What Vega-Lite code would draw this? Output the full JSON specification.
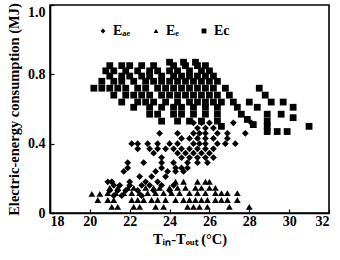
{
  "$schema": "https://vega.github.io/schema/vega-lite/v6.json",
  "width": 279,
  "height": 208,
  "autosize": {"type": "none"},
  "padding": {"left": 50, "top": 5, "right": 11, "bottom": 47},
  "background": "white",
  "config": {
    "font": "Liberation Serif",
    "view": {"stroke": "black", "strokeWidth": 1.6},
    "axis": {
      "domainColor": "black", "domainWidth": 1.6, "tickColor": "black", "tickWidth": 1.2, "grid": false,
      "labelFont": "Liberation Serif", "labelFontWeight": "bold", "labelFontSize": 14, "labelColor": "black",
      "titleFont": "Liberation Serif", "titleFontWeight": "bold", "titleFontSize": 14.5, "titleColor": "black"
    }
  },
  "data": {"values": [
    {"t":24.0,"e":0.87,"s":"Ec"},{"t":24.7,"e":0.87,"s":"Ec"},{"t":25.3,"e":0.87,"s":"Ec"},
    {"t":21.0,"e":0.85,"s":"Ec"},{"t":21.6,"e":0.85,"s":"Ec"},{"t":22.0,"e":0.85,"s":"Ec"},{"t":22.6,"e":0.85,"s":"Ec"},{"t":23.2,"e":0.85,"s":"Ec"},{"t":24.2,"e":0.85,"s":"Ec"},{"t":24.8,"e":0.85,"s":"Ec"},{"t":25.4,"e":0.85,"s":"Ec"},{"t":25.8,"e":0.85,"s":"Ec"},
    {"t":20.8,"e":0.82,"s":"Ec"},{"t":21.2,"e":0.82,"s":"Ec"},{"t":21.8,"e":0.82,"s":"Ec"},{"t":22.4,"e":0.82,"s":"Ec"},{"t":23.0,"e":0.82,"s":"Ec"},{"t":23.4,"e":0.82,"s":"Ec"},{"t":24.0,"e":0.82,"s":"Ec"},{"t":24.4,"e":0.82,"s":"Ec"},{"t":25.0,"e":0.82,"s":"Ec"},{"t":25.6,"e":0.82,"s":"Ec"},{"t":26.0,"e":0.82,"s":"Ec"},
    {"t":21.0,"e":0.79,"s":"Ec"},{"t":21.6,"e":0.79,"s":"Ec"},{"t":22.0,"e":0.79,"s":"Ec"},{"t":22.6,"e":0.79,"s":"Ec"},{"t":23.0,"e":0.79,"s":"Ec"},{"t":23.6,"e":0.79,"s":"Ec"},{"t":24.2,"e":0.79,"s":"Ec"},{"t":24.6,"e":0.79,"s":"Ec"},{"t":25.0,"e":0.79,"s":"Ec"},{"t":25.4,"e":0.79,"s":"Ec"},{"t":25.8,"e":0.79,"s":"Ec"},{"t":26.2,"e":0.79,"s":"Ec"},
    {"t":20.6,"e":0.76,"s":"Ec"},{"t":21.2,"e":0.76,"s":"Ec"},{"t":21.6,"e":0.76,"s":"Ec"},{"t":22.2,"e":0.76,"s":"Ec"},{"t":22.8,"e":0.76,"s":"Ec"},{"t":23.2,"e":0.76,"s":"Ec"},{"t":23.6,"e":0.76,"s":"Ec"},{"t":24.0,"e":0.76,"s":"Ec"},{"t":24.4,"e":0.76,"s":"Ec"},{"t":24.8,"e":0.76,"s":"Ec"},{"t":25.2,"e":0.76,"s":"Ec"},{"t":25.6,"e":0.76,"s":"Ec"},{"t":26.0,"e":0.76,"s":"Ec"},{"t":26.4,"e":0.76,"s":"Ec"},
    {"t":20.2,"e":0.72,"s":"Ec"},{"t":20.6,"e":0.72,"s":"Ec"},{"t":21.0,"e":0.72,"s":"Ec"},{"t":21.4,"e":0.72,"s":"Ec"},{"t":21.8,"e":0.72,"s":"Ec"},{"t":22.4,"e":0.72,"s":"Ec"},{"t":22.8,"e":0.72,"s":"Ec"},{"t":23.4,"e":0.72,"s":"Ec"},{"t":23.8,"e":0.72,"s":"Ec"},{"t":24.2,"e":0.72,"s":"Ec"},{"t":24.6,"e":0.72,"s":"Ec"},{"t":25.0,"e":0.72,"s":"Ec"},{"t":25.4,"e":0.72,"s":"Ec"},{"t":25.8,"e":0.72,"s":"Ec"},{"t":26.2,"e":0.72,"s":"Ec"},{"t":26.8,"e":0.72,"s":"Ec"},{"t":28.5,"e":0.72,"s":"Ec"},
    {"t":21.2,"e":0.68,"s":"Ec"},{"t":21.8,"e":0.68,"s":"Ec"},{"t":22.2,"e":0.68,"s":"Ec"},{"t":22.6,"e":0.68,"s":"Ec"},{"t":23.0,"e":0.68,"s":"Ec"},{"t":23.6,"e":0.68,"s":"Ec"},{"t":24.0,"e":0.68,"s":"Ec"},{"t":24.4,"e":0.68,"s":"Ec"},{"t":24.8,"e":0.68,"s":"Ec"},{"t":25.2,"e":0.68,"s":"Ec"},{"t":25.6,"e":0.68,"s":"Ec"},{"t":26.0,"e":0.68,"s":"Ec"},{"t":26.4,"e":0.68,"s":"Ec"},{"t":27.0,"e":0.68,"s":"Ec"},{"t":28.8,"e":0.68,"s":"Ec"},
    {"t":21.6,"e":0.64,"s":"Ec"},{"t":22.4,"e":0.64,"s":"Ec"},{"t":22.8,"e":0.64,"s":"Ec"},{"t":23.2,"e":0.64,"s":"Ec"},{"t":23.8,"e":0.64,"s":"Ec"},{"t":24.4,"e":0.64,"s":"Ec"},{"t":25.0,"e":0.64,"s":"Ec"},{"t":25.4,"e":0.64,"s":"Ec"},{"t":25.8,"e":0.64,"s":"Ec"},{"t":26.2,"e":0.64,"s":"Ec"},{"t":26.6,"e":0.64,"s":"Ec"},{"t":27.2,"e":0.64,"s":"Ec"},{"t":28.0,"e":0.64,"s":"Ec"},{"t":29.1,"e":0.64,"s":"Ec"},{"t":29.7,"e":0.64,"s":"Ec"},
    {"t":22.2,"e":0.61,"s":"Ec"},{"t":23.0,"e":0.61,"s":"Ec"},{"t":23.6,"e":0.61,"s":"Ec"},{"t":24.2,"e":0.61,"s":"Ec"},{"t":24.6,"e":0.61,"s":"Ec"},{"t":25.2,"e":0.61,"s":"Ec"},{"t":25.8,"e":0.61,"s":"Ec"},{"t":26.4,"e":0.61,"s":"Ec"},{"t":27.4,"e":0.61,"s":"Ec"},{"t":28.4,"e":0.61,"s":"Ec"},{"t":30.2,"e":0.61,"s":"Ec"},
    {"t":23.0,"e":0.57,"s":"Ec"},{"t":23.4,"e":0.57,"s":"Ec"},{"t":24.2,"e":0.57,"s":"Ec"},{"t":24.6,"e":0.57,"s":"Ec"},{"t":25.2,"e":0.57,"s":"Ec"},{"t":25.8,"e":0.57,"s":"Ec"},{"t":26.4,"e":0.57,"s":"Ec"},{"t":27.6,"e":0.57,"s":"Ec"},{"t":28.9,"e":0.57,"s":"Ec"},{"t":29.6,"e":0.57,"s":"Ec"},
    {"t":23.6,"e":0.53,"s":"Ec"},{"t":24.4,"e":0.53,"s":"Ec"},{"t":25.0,"e":0.53,"s":"Ec"},{"t":25.6,"e":0.53,"s":"Ec"},{"t":26.4,"e":0.53,"s":"Ec"},{"t":27.9,"e":0.54,"s":"Ec"},{"t":28.9,"e":0.53,"s":"Ec"},{"t":30.2,"e":0.55,"s":"Ec"},
    {"t":26.6,"e":0.50,"s":"Ec"},{"t":28.2,"e":0.51,"s":"Ec"},{"t":28.9,"e":0.50,"s":"Ec"},{"t":31.0,"e":0.50,"s":"Ec"},
    {"t":28.9,"e":0.47,"s":"Ec"},{"t":29.4,"e":0.47,"s":"Ec"},{"t":29.9,"e":0.47,"s":"Ec"},

    {"t":25.2,"e":0.52,"s":"Eₐₑ"},{"t":25.6,"e":0.52,"s":"Eₐₑ"},{"t":26.0,"e":0.52,"s":"Eₐₑ"},{"t":27.2,"e":0.52,"s":"Eₐₑ"},{"t":28.1,"e":0.52,"s":"Eₐₑ"},
    {"t":25.4,"e":0.49,"s":"Eₐₑ"},{"t":25.8,"e":0.49,"s":"Eₐₑ"},{"t":26.2,"e":0.49,"s":"Eₐₑ"},
    {"t":23.5,"e":0.46,"s":"Eₐₑ"},{"t":24.4,"e":0.46,"s":"Eₐₑ"},{"t":25.2,"e":0.46,"s":"Eₐₑ"},{"t":25.5,"e":0.46,"s":"Eₐₑ"},{"t":25.8,"e":0.46,"s":"Eₐₑ"},{"t":26.4,"e":0.46,"s":"Eₐₑ"},{"t":26.9,"e":0.46,"s":"Eₐₑ"},{"t":27.8,"e":0.46,"s":"Eₐₑ"},
    {"t":24.6,"e":0.43,"s":"Eₐₑ"},{"t":25.0,"e":0.43,"s":"Eₐₑ"},{"t":25.4,"e":0.43,"s":"Eₐₑ"},{"t":25.8,"e":0.43,"s":"Eₐₑ"},{"t":26.2,"e":0.43,"s":"Eₐₑ"},{"t":26.9,"e":0.43,"s":"Eₐₑ"},
    {"t":22.1,"e":0.40,"s":"Eₐₑ"},{"t":22.4,"e":0.40,"s":"Eₐₑ"},{"t":22.9,"e":0.40,"s":"Eₐₑ"},{"t":23.4,"e":0.40,"s":"Eₐₑ"},{"t":24.0,"e":0.40,"s":"Eₐₑ"},{"t":24.4,"e":0.40,"s":"Eₐₑ"},{"t":25.2,"e":0.40,"s":"Eₐₑ"},{"t":25.5,"e":0.40,"s":"Eₐₑ"},{"t":25.8,"e":0.40,"s":"Eₐₑ"},{"t":26.4,"e":0.40,"s":"Eₐₑ"},{"t":26.8,"e":0.40,"s":"Eₐₑ"},{"t":27.3,"e":0.40,"s":"Eₐₑ"},
    {"t":22.4,"e":0.37,"s":"Eₐₑ"},{"t":23.0,"e":0.37,"s":"Eₐₑ"},{"t":23.4,"e":0.37,"s":"Eₐₑ"},{"t":23.8,"e":0.37,"s":"Eₐₑ"},{"t":24.2,"e":0.37,"s":"Eₐₑ"},{"t":24.6,"e":0.37,"s":"Eₐₑ"},{"t":25.0,"e":0.37,"s":"Eₐₑ"},{"t":25.4,"e":0.37,"s":"Eₐₑ"},{"t":25.8,"e":0.37,"s":"Eₐₑ"},{"t":26.2,"e":0.37,"s":"Eₐₑ"},
    {"t":23.2,"e":0.345,"s":"Eₐₑ"},{"t":24.4,"e":0.345,"s":"Eₐₑ"},{"t":24.8,"e":0.345,"s":"Eₐₑ"},{"t":25.2,"e":0.345,"s":"Eₐₑ"},{"t":25.6,"e":0.345,"s":"Eₐₑ"},{"t":26.0,"e":0.345,"s":"Eₐₑ"},
    {"t":23.6,"e":0.32,"s":"Eₐₑ"},{"t":24.6,"e":0.32,"s":"Eₐₑ"},{"t":25.0,"e":0.32,"s":"Eₐₑ"},{"t":25.4,"e":0.32,"s":"Eₐₑ"},{"t":25.8,"e":0.32,"s":"Eₐₑ"},{"t":26.2,"e":0.32,"s":"Eₐₑ"},
    {"t":21.9,"e":0.29,"s":"Eₐₑ"},{"t":22.7,"e":0.29,"s":"Eₐₑ"},{"t":23.6,"e":0.29,"s":"Eₐₑ"},{"t":24.2,"e":0.29,"s":"Eₐₑ"},{"t":24.9,"e":0.29,"s":"Eₐₑ"},{"t":25.4,"e":0.29,"s":"Eₐₑ"},{"t":25.9,"e":0.29,"s":"Eₐₑ"},
    {"t":21.9,"e":0.26,"s":"Eₐₑ"},{"t":23.6,"e":0.26,"s":"Eₐₑ"},{"t":24.3,"e":0.26,"s":"Eₐₑ"},{"t":24.6,"e":0.26,"s":"Eₐₑ"},{"t":24.9,"e":0.26,"s":"Eₐₑ"},
    {"t":21.7,"e":0.24,"s":"Eₐₑ"},{"t":23.3,"e":0.24,"s":"Eₐₑ"},{"t":23.9,"e":0.24,"s":"Eₐₑ"},{"t":24.3,"e":0.24,"s":"Eₐₑ"},{"t":24.7,"e":0.24,"s":"Eₐₑ"},
    {"t":22.5,"e":0.21,"s":"Eₐₑ"},{"t":23.1,"e":0.21,"s":"Eₐₑ"},{"t":23.8,"e":0.21,"s":"Eₐₑ"},
    {"t":20.9,"e":0.18,"s":"Eₐₑ"},{"t":21.1,"e":0.18,"s":"Eₐₑ"},{"t":22.0,"e":0.18,"s":"Eₐₑ"},{"t":22.8,"e":0.18,"s":"Eₐₑ"},{"t":23.4,"e":0.18,"s":"Eₐₑ"},
    {"t":21.2,"e":0.16,"s":"Eₐₑ"},{"t":21.5,"e":0.16,"s":"Eₐₑ"},{"t":22.0,"e":0.16,"s":"Eₐₑ"},{"t":22.6,"e":0.16,"s":"Eₐₑ"},{"t":23.0,"e":0.16,"s":"Eₐₑ"},{"t":23.6,"e":0.16,"s":"Eₐₑ"},{"t":24.2,"e":0.16,"s":"Eₐₑ"},
    {"t":21.0,"e":0.13,"s":"Eₐₑ"},{"t":21.4,"e":0.13,"s":"Eₐₑ"},{"t":21.8,"e":0.13,"s":"Eₐₑ"},{"t":22.4,"e":0.13,"s":"Eₐₑ"},{"t":23.2,"e":0.13,"s":"Eₐₑ"},{"t":24.0,"e":0.13,"s":"Eₐₑ"},
    {"t":21.2,"e":0.10,"s":"Eₐₑ"},{"t":21.6,"e":0.10,"s":"Eₐₑ"},{"t":22.6,"e":0.10,"s":"Eₐₑ"},

    {"t":24.3,"e":0.18,"s":"Eₑ"},{"t":24.7,"e":0.18,"s":"Eₑ"},{"t":25.4,"e":0.18,"s":"Eₑ"},{"t":25.8,"e":0.18,"s":"Eₑ"},{"t":26.0,"e":0.18,"s":"Eₑ"},
    {"t":21.0,"e":0.145,"s":"Eₑ"},{"t":21.4,"e":0.145,"s":"Eₑ"},{"t":21.9,"e":0.145,"s":"Eₑ"},{"t":22.2,"e":0.145,"s":"Eₑ"},{"t":22.8,"e":0.145,"s":"Eₑ"},{"t":23.2,"e":0.145,"s":"Eₑ"},{"t":23.5,"e":0.145,"s":"Eₑ"},{"t":24.0,"e":0.145,"s":"Eₑ"},{"t":24.4,"e":0.145,"s":"Eₑ"},{"t":24.8,"e":0.145,"s":"Eₑ"},{"t":25.3,"e":0.145,"s":"Eₑ"},{"t":25.6,"e":0.145,"s":"Eₑ"},{"t":26.0,"e":0.145,"s":"Eₑ"},{"t":26.3,"e":0.145,"s":"Eₑ"},
    {"t":20.1,"e":0.11,"s":"Eₑ"},{"t":20.5,"e":0.11,"s":"Eₑ"},{"t":20.9,"e":0.115,"s":"Eₑ"},{"t":21.3,"e":0.115,"s":"Eₑ"},{"t":21.7,"e":0.115,"s":"Eₑ"},{"t":22.1,"e":0.115,"s":"Eₑ"},{"t":22.5,"e":0.115,"s":"Eₑ"},{"t":22.9,"e":0.115,"s":"Eₑ"},{"t":23.3,"e":0.115,"s":"Eₑ"},{"t":23.7,"e":0.115,"s":"Eₑ"},{"t":24.1,"e":0.115,"s":"Eₑ"},{"t":24.5,"e":0.115,"s":"Eₑ"},{"t":25.0,"e":0.115,"s":"Eₑ"},{"t":25.4,"e":0.115,"s":"Eₑ"},{"t":25.8,"e":0.115,"s":"Eₑ"},{"t":26.3,"e":0.115,"s":"Eₑ"},{"t":26.6,"e":0.115,"s":"Eₑ"},{"t":26.9,"e":0.115,"s":"Eₑ"},{"t":27.4,"e":0.115,"s":"Eₑ"},
    {"t":20.4,"e":0.075,"s":"Eₑ"},{"t":20.9,"e":0.075,"s":"Eₑ"},{"t":21.2,"e":0.075,"s":"Eₑ"},{"t":22.1,"e":0.075,"s":"Eₑ"},{"t":22.4,"e":0.075,"s":"Eₑ"},{"t":22.7,"e":0.075,"s":"Eₑ"},{"t":23.1,"e":0.075,"s":"Eₑ"},{"t":23.4,"e":0.075,"s":"Eₑ"},{"t":23.8,"e":0.075,"s":"Eₑ"},{"t":24.3,"e":0.075,"s":"Eₑ"},{"t":24.7,"e":0.075,"s":"Eₑ"},{"t":25.0,"e":0.075,"s":"Eₑ"},{"t":25.3,"e":0.075,"s":"Eₑ"},{"t":25.6,"e":0.075,"s":"Eₑ"},{"t":25.9,"e":0.075,"s":"Eₑ"},{"t":26.3,"e":0.075,"s":"Eₑ"},{"t":26.6,"e":0.075,"s":"Eₑ"},{"t":26.9,"e":0.075,"s":"Eₑ"},{"t":27.4,"e":0.075,"s":"Eₑ"},
    {"t":21.1,"e":0.035,"s":"Eₑ"},{"t":21.4,"e":0.035,"s":"Eₑ"},{"t":22.2,"e":0.035,"s":"Eₑ"},{"t":22.5,"e":0.035,"s":"Eₑ"},{"t":23.3,"e":0.035,"s":"Eₑ"},{"t":23.7,"e":0.035,"s":"Eₑ"},{"t":24.9,"e":0.035,"s":"Eₑ"},{"t":25.2,"e":0.035,"s":"Eₑ"},{"t":25.5,"e":0.035,"s":"Eₑ"},{"t":25.9,"e":0.035,"s":"Eₑ"},{"t":27.0,"e":0.035,"s":"Eₑ"},{"t":28.0,"e":0.035,"s":"Eₑ"}
  ]},
  "mark": {"type": "point", "filled": true, "opacity": 1, "size": 46},
  "encoding": {
    "x": {
      "field": "t", "type": "quantitative",
      "scale": {"domain": [18, 32], "nice": false, "zero": false},
      "axis": {"title": "Tᵢₙ-Tₒᵤₜ (°C)", "values": [18, 20, 22, 24, 26, 28, 30, 32], "tickSize": -4, "labelPadding": 5, "titlePadding": 4}
    },
    "y": {
      "field": "e", "type": "quantitative",
      "scale": {"domain": [0, 1.2], "nice": false},
      "axis": {"title": "Electric-energy consumption (MJ)", "values": [0, 0.4, 0.8, 1.2], "tickSize": -4, "labelPadding": 9, "titlePadding": 6,
        "labelBaseline": {"condition": {"test": "datum.value > 1.1", "value": "top"}, "value": "middle"},
        "labelExpr": "datum.value == 0 ? '0' : (datum.value > 1.1 ? '1.0' : format(datum.value, '.1f'))"}
    },
    "shape": {
      "field": "s", "type": "nominal",
      "scale": {"domain": ["Eₐₑ", "Eₑ", "Ec"], "range": ["diamond", "triangle-up", "square"]},
      "legend": {
        "title": null, "orient": "none", "direction": "horizontal", "legendX": 46, "legendY": 19,
        "symbolSize": 24, "symbolFillColor": "black", "symbolStrokeColor": "black", "symbolType": "square",
        "labelFont": "Liberation Serif", "labelFontWeight": "bold", "labelFontSize": 14, "labelColor": "black",
        "columnPadding": 18, "symbolOffset": 0, "labelOffset": 3
      }
    },
    "color": {"value": "black"}
  }
}
